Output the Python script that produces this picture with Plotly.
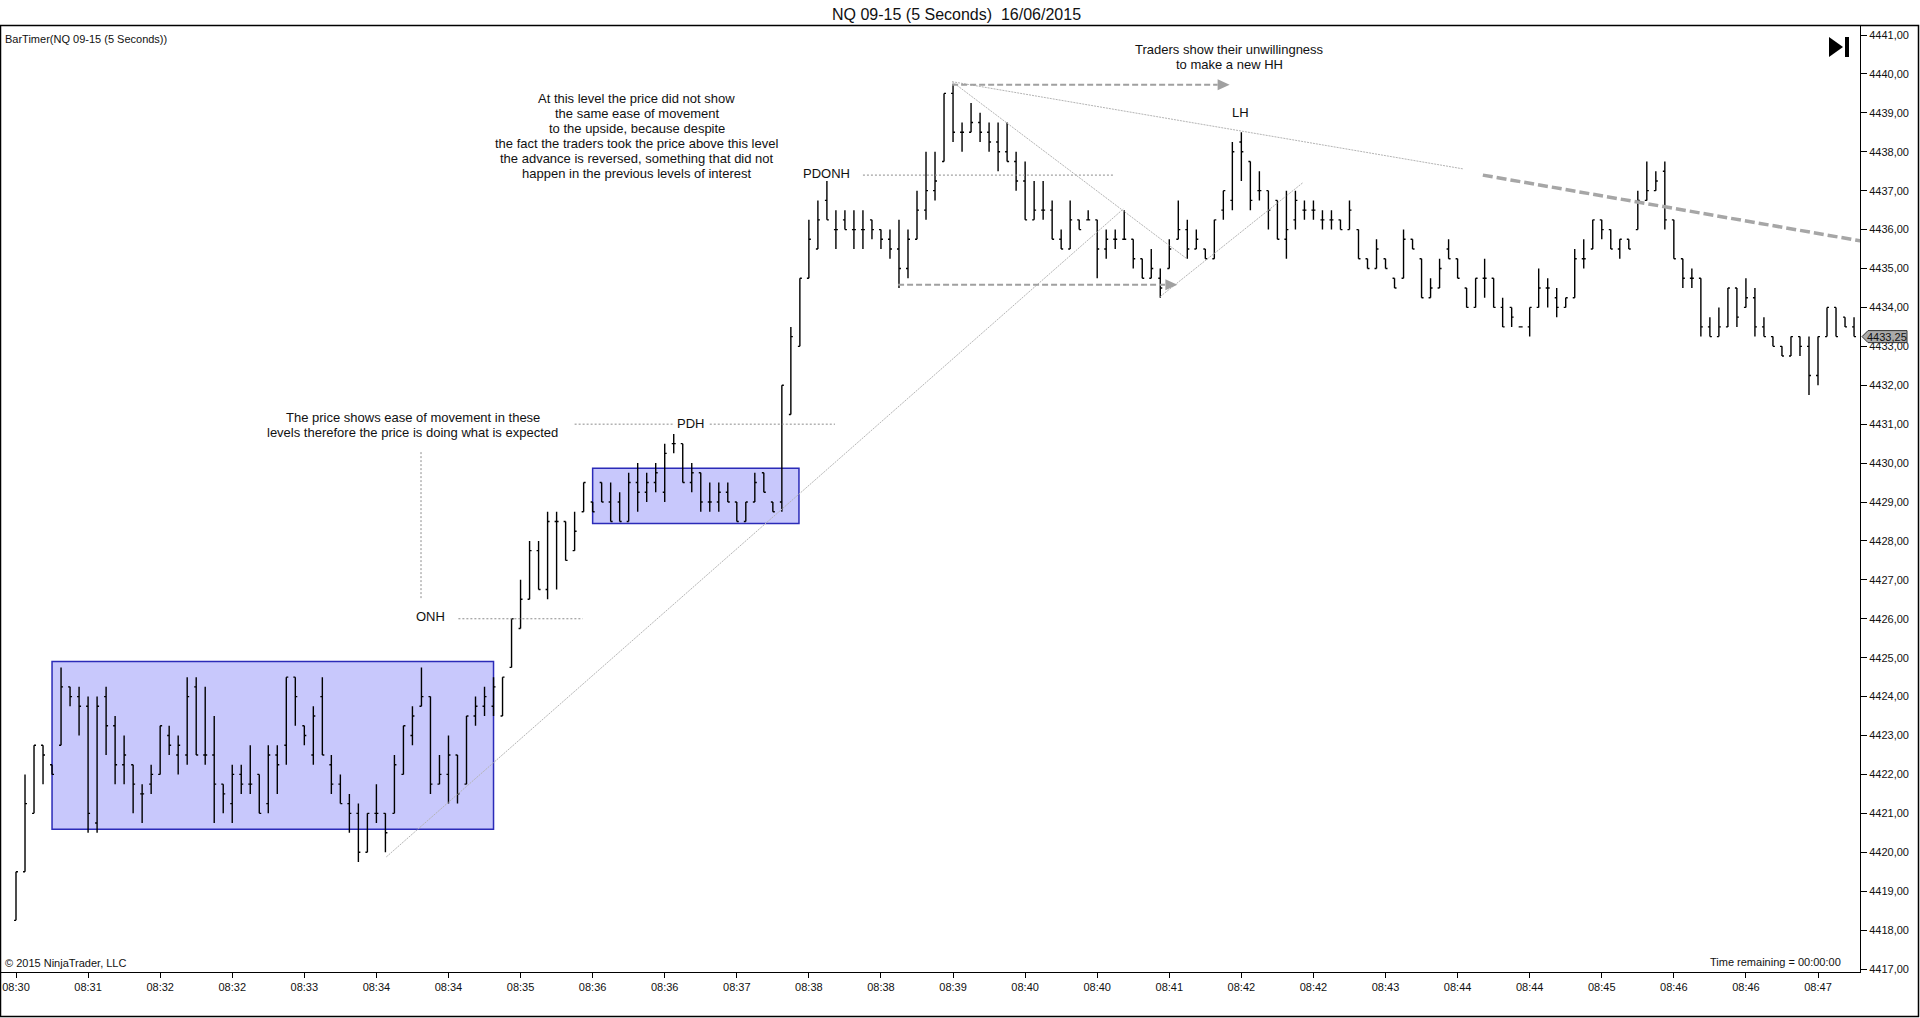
import plotly.graph_objects as go

# 5 second bars of NQ 09-15 (bar index 0 = first bar)
opens = [
    4418.25, 4419.5, 4421.0, 4422.75, 4422.25, 4422.75, 4424.25, 4424.0, 4423.75, 4420.75,
    4424.0, 4423.25, 4422.25, 4422.25, 4421.5, 4421.75, 4422.0, 4423.0, 4422.5, 4422.5,
    4424.25, 4422.5, 4422.5, 4421.75, 4421.25, 4422.0, 4421.75, 4422.0, 4421.25, 4422.5,
    4422.75, 4424.5, 4423.25, 4422.5, 4424.0, 4422.25, 4421.75, 4421.25, 4421.0, 4420.0,
    4421.0, 4421.0, 4421.0, 4422.0, 4423.0, 4423.75, 4424.0, 4421.75, 4422.0, 4422.5,
    4421.75, 4423.5, 4423.75, 4423.75, 4423.5, 4424.75, 4425.75, 4426.5, 4427.75, 4426.75,
    4428.5, 4428.5, 4427.75, 4428.75, 4429.0, 4429.5, 4429.0, 4429.0, 4428.5, 4429.5,
    4429.25, 4429.5, 4429.25, 4430.5, 4430.5, 4429.5, 4429.75, 4429.0, 4429.0, 4429.25,
    4429.0, 4428.5, 4429.0, 4429.75, 4429.0, 4429.0, 4431.25, 4433.0, 4434.75, 4435.5,
    4436.75, 4436.0, 4436.25, 4436.0, 4436.0, 4436.25, 4436.0, 4435.75, 4435.5, 4435.0,
    4435.75, 4436.5, 4437.0, 4437.75, 4439.5, 4438.5, 4438.5, 4438.75, 4438.5, 4438.25,
    4438.0, 4437.75, 4437.25, 4436.25, 4436.5, 4436.5, 4435.75, 4435.5, 4436.25, 4436.25,
    4436.25, 4435.5, 4435.75, 4435.75, 4435.75, 4435.25, 4434.75, 4434.75, 4435.0, 4435.75,
    4436.0, 4435.5, 4435.5, 4435.25, 4436.5, 4436.75, 4438.25, 4437.75, 4437.0, 4437.0,
    4436.75, 4435.75, 4436.25, 4436.5, 4436.5, 4436.25, 4436.25, 4436.25, 4436.0, 4436.0,
    4435.25, 4435.0, 4435.25, 4434.75, 4434.75, 4435.75, 4435.25, 4434.25, 4434.5, 4435.5,
    4435.25, 4434.5, 4434.0, 4434.75, 4434.75, 4434.0, 4434.0, 4433.5, 4433.5, 4434.0,
    4434.5, 4434.25, 4434.0, 4434.25, 4435.25, 4435.5, 4436.25, 4436.0, 4435.5, 4435.75,
    4436.0, 4436.75, 4437.0, 4437.5, 4436.25, 4435.25, 4434.75, 4434.75, 4433.5, 4433.25,
    4433.5, 4434.5, 4434.0, 4434.25, 4433.5, 4433.25, 4433.0, 4432.75, 4433.25, 4433.0,
    4432.25, 4433.25, 4434.0, 4433.75, 4433.5,
]
highs = [
    4419.5, 4422.0, 4422.75, 4422.75, 4422.25, 4424.75, 4424.25, 4424.25, 4424.0, 4424.0,
    4424.25, 4423.5, 4423.0, 4422.25, 4421.75, 4422.25, 4423.25, 4423.25, 4423.0, 4424.5,
    4424.5, 4424.25, 4423.5, 4421.75, 4422.25, 4422.25, 4422.75, 4422.0, 4422.75, 4422.75,
    4424.5, 4424.5, 4423.25, 4423.75, 4424.5, 4422.5, 4422.0, 4421.5, 4421.25, 4421.0,
    4421.75, 4421.0, 4422.5, 4423.25, 4423.75, 4424.75, 4424.0, 4422.5, 4423.0, 4422.5,
    4423.5, 4424.0, 4424.25, 4424.5, 4424.5, 4426.0, 4427.0, 4428.0, 4428.0, 4428.75,
    4428.75, 4428.5, 4428.75, 4429.5, 4429.0, 4429.5, 4429.5, 4429.25, 4429.75, 4430.0,
    4429.75, 4430.0, 4430.5, 4430.75, 4430.5, 4430.0, 4429.75, 4429.5, 4429.5, 4429.5,
    4429.0, 4429.0, 4429.75, 4429.75, 4429.0, 4432.0, 4433.5, 4434.75, 4436.25, 4436.75,
    4437.25, 4436.5, 4436.5, 4436.5, 4436.5, 4436.25, 4436.0, 4436.0, 4436.25, 4436.0,
    4437.0, 4438.0, 4438.0, 4439.5, 4439.75, 4438.75, 4439.25, 4439.0, 4438.75, 4438.75,
    4438.75, 4438.0, 4437.75, 4437.25, 4437.25, 4436.75, 4436.0, 4436.75, 4436.25, 4436.5,
    4436.25, 4436.0, 4436.0, 4436.5, 4435.75, 4435.25, 4435.5, 4435.0, 4435.75, 4436.75,
    4436.25, 4436.0, 4435.5, 4436.25, 4437.0, 4438.25, 4438.5, 4437.75, 4437.5, 4437.0,
    4436.75, 4437.0, 4437.0, 4436.75, 4436.75, 4436.5, 4436.5, 4436.25, 4436.75, 4436.0,
    4435.25, 4435.75, 4435.25, 4434.75, 4436.0, 4435.75, 4435.25, 4434.75, 4435.25, 4435.75,
    4435.25, 4434.5, 4434.75, 4435.25, 4434.75, 4434.25, 4434.0, 4433.5, 4434.0, 4435.0,
    4434.75, 4434.5, 4434.25, 4435.5, 4435.75, 4436.25, 4436.25, 4436.0, 4435.75, 4435.75,
    4437.0, 4437.75, 4437.5, 4437.75, 4436.25, 4435.25, 4435.0, 4434.75, 4433.75, 4434.0,
    4434.5, 4434.5, 4434.75, 4434.5, 4433.75, 4433.25, 4433.0, 4433.25, 4433.25, 4433.25,
    4433.25, 4434.0, 4434.0, 4433.75, 4433.75,
]
lows = [
    4418.25, 4419.5, 4421.0, 4421.75, 4422.0, 4422.75, 4423.75, 4423.0, 4420.5, 4420.5,
    4422.5, 4421.75, 4421.75, 4421.0, 4420.75, 4421.5, 4422.0, 4422.5, 4422.0, 4422.25,
    4422.5, 4422.25, 4420.75, 4421.0, 4420.75, 4421.5, 4421.5, 4421.0, 4421.0, 4421.5,
    4422.25, 4423.25, 4422.75, 4422.25, 4422.5, 4421.5, 4421.25, 4420.5, 4419.75, 4420.0,
    4420.75, 4420.0, 4421.0, 4422.0, 4422.75, 4423.75, 4421.5, 4421.75, 4421.25, 4421.25,
    4421.75, 4423.25, 4423.5, 4423.5, 4423.5, 4424.75, 4425.75, 4426.5, 4426.75, 4426.5,
    4426.75, 4427.5, 4427.75, 4428.75, 4428.75, 4429.0, 4428.5, 4428.5, 4428.5, 4428.75,
    4429.0, 4429.25, 4429.0, 4430.25, 4429.5, 4429.25, 4428.75, 4428.75, 4428.75, 4429.0,
    4428.5, 4428.5, 4429.0, 4429.25, 4428.75, 4428.75, 4431.25, 4433.0, 4434.75, 4435.5,
    4436.25, 4435.5, 4436.0, 4435.5, 4435.5, 4435.75, 4435.5, 4435.25, 4434.5, 4434.75,
    4435.75, 4436.25, 4436.75, 4437.75, 4438.25, 4438.0, 4438.5, 4438.25, 4438.0, 4437.5,
    4437.75, 4437.0, 4436.25, 4436.25, 4436.25, 4435.75, 4435.5, 4435.5, 4436.0, 4436.25,
    4434.75, 4435.25, 4435.5, 4435.75, 4435.0, 4434.75, 4434.75, 4434.25, 4435.0, 4435.75,
    4435.25, 4435.5, 4435.25, 4435.25, 4436.25, 4436.5, 4437.25, 4436.5, 4436.75, 4436.0,
    4435.75, 4435.25, 4436.0, 4436.25, 4436.25, 4436.0, 4436.0, 4436.0, 4436.0, 4435.25,
    4435.0, 4435.0, 4435.0, 4434.5, 4434.75, 4435.5, 4434.25, 4434.25, 4434.5, 4435.25,
    4434.75, 4434.0, 4434.0, 4434.25, 4434.0, 4433.5, 4433.5, 4433.5, 4433.25, 4434.0,
    4434.0, 4433.75, 4434.0, 4434.25, 4435.0, 4435.5, 4435.75, 4435.5, 4435.25, 4435.5,
    4436.0, 4436.75, 4437.0, 4436.0, 4435.25, 4434.5, 4434.5, 4433.25, 4433.25, 4433.25,
    4433.5, 4433.5, 4434.0, 4433.25, 4433.25, 4433.0, 4432.75, 4432.75, 4432.75, 4431.75,
    4432.0, 4433.25, 4433.25, 4433.5, 4433.25,
]
closes = [
    4419.5, 4421.25, 4422.75, 4422.5, 4422.0, 4424.25, 4424.0, 4423.75, 4421.0, 4423.75,
    4423.25, 4422.25, 4422.5, 4421.75, 4421.5, 4422.0, 4423.25, 4422.75, 4422.75, 4424.0,
    4422.5, 4422.5, 4421.75, 4421.5, 4422.0, 4421.75, 4421.75, 4421.0, 4422.5, 4422.25,
    4424.5, 4424.0, 4423.0, 4423.5, 4422.5, 4421.75, 4421.25, 4421.0, 4420.0, 4421.0,
    4421.0, 4420.5, 4422.25, 4423.25, 4423.5, 4424.0, 4421.75, 4422.0, 4422.5, 4421.5,
    4423.5, 4423.75, 4424.0, 4424.25, 4424.5, 4426.0, 4426.5, 4427.75, 4426.75, 4428.5,
    4428.5, 4427.5, 4428.25, 4429.5, 4428.75, 4429.0, 4428.5, 4428.5, 4429.5, 4429.25,
    4429.5, 4429.75, 4430.25, 4430.5, 4429.5, 4429.75, 4429.0, 4429.0, 4429.25, 4429.0,
    4428.5, 4429.0, 4429.5, 4429.25, 4428.75, 4432.0, 4433.25, 4434.75, 4435.75, 4436.25,
    4436.25, 4436.0, 4436.0, 4436.0, 4436.0, 4436.0, 4435.75, 4435.5, 4435.0, 4435.75,
    4436.5, 4437.0, 4437.25, 4439.5, 4438.5, 4438.5, 4438.75, 4438.5, 4438.25, 4438.0,
    4437.75, 4437.25, 4436.25, 4436.5, 4436.5, 4435.75, 4435.5, 4436.25, 4436.0, 4436.25,
    4435.5, 4435.75, 4435.75, 4435.75, 4435.25, 4434.75, 4435.0, 4434.5, 4435.5, 4436.0,
    4435.5, 4435.75, 4435.25, 4436.25, 4437.0, 4438.0, 4438.0, 4436.75, 4437.0, 4436.5,
    4435.75, 4436.0, 4436.75, 4436.5, 4436.5, 4436.25, 4436.25, 4436.0, 4436.5, 4435.25,
    4435.0, 4435.5, 4435.0, 4434.5, 4435.75, 4435.5, 4434.25, 4434.5, 4435.0, 4435.25,
    4434.75, 4434.0, 4434.75, 4434.75, 4434.0, 4433.5, 4433.75, 4433.5, 4434.0, 4434.5,
    4434.5, 4434.0, 4434.25, 4435.25, 4435.25, 4436.25, 4436.0, 4435.5, 4435.75, 4435.5,
    4436.75, 4437.0, 4437.25, 4436.25, 4435.25, 4434.75, 4434.75, 4433.5, 4433.25, 4433.5,
    4434.5, 4433.75, 4434.25, 4433.5, 4433.25, 4433.0, 4432.75, 4433.25, 4433.0, 4432.25,
    4433.25, 4434.0, 4433.25, 4433.5, 4433.25,
]

tick_bars = [0, 8, 16, 24, 32, 40, 48, 56, 64, 72, 80, 88, 96,
             104, 112, 120, 128, 136, 144, 152, 160, 168, 176, 184, 192, 200]
tick_labels = ["08:30", "08:31", "08:32", "08:32", "08:33", "08:34", "08:34", "08:35",
               "08:36", "08:36", "08:37", "08:38", "08:38", "08:39", "08:40", "08:40",
               "08:41", "08:42", "08:42", "08:43", "08:44", "08:44", "08:45", "08:46",
               "08:46", "08:47"]

# drawing objects on the chart, in bar index / price
boxes = [(4.0, 53.0, 4420.59, 4424.90), (64.0, 86.9, 4428.45, 4429.87)]
level_lines = [(49.1, 62.9, 4426.0), (62.0, 72.9, 4431.0), (77.0, 90.9, 4431.0), (94.0, 121.8, 4437.4)]
connector = (44.95, 4426.53, 4430.31)
thin_lines = [(41.1, 4419.88, 122.9, 4436.53), (103.9, 4439.80, 129.9, 4435.26),
              (103.9, 4439.80, 160.6, 4437.56), (127.0, 4434.28, 142.8, 4437.20)]
thick_line = (162.8, 4437.40, 204.7, 4435.71)
arrows = [(103.9, 134.7, 4439.72), (97.9, 128.9, 4434.58)]

labels = [("ONH", 45.95, 4426.05), ("PDH", 74.9, 4431.03), ("PDONH", 89.9, 4437.45), ("LH", 135.85, 4439.02)]
notes = [
    (68.9, 4439.38, ["At this level the price did not show", "the same ease of movement",
                     "to the upside, because despite",
                     "the fact the traders took the price above this level",
                     "the advance is reversed, something that did not",
                     "happen in the previous levels of interest"]),
    (44.06, 4431.17, ["The price shows ease of movement in these",
                      "levels therefore the price is doing what is expected"]),
    (134.7, 4440.64, ["Traders show their unwillingness", "to make a new HH"]),
]

W, H = 1920, 1018
ML, MR, MT, MB = 1, 60, 26, 46
PW, PH = W - ML - MR, H - MT - MB
FONT = "Liberation Sans, Arial, sans-serif"
INK = "#111111"


def px(x):
    return (x - ML) / PW


def py(y):
    return (H - MB - y) / PH


fig = go.Figure(go.Ohlc(
    x=list(range(len(opens))), open=opens, high=highs, low=lows, close=closes,
    increasing=dict(line=dict(color="black", width=1.4)),
    decreasing=dict(line=dict(color="black", width=1.4)),
    tickwidth=0.22, hoverinfo="skip", showlegend=False,
))

shapes = []
for x0, x1, y0, y1 in boxes:
    shapes.append(dict(type="rect", x0=x0, x1=x1, y0=y0, y1=y1, layer="below",
                       fillcolor="#c8c8fc", line=dict(color="#2b2bb8", width=1.5)))
for x0, x1, y in level_lines:
    shapes.append(dict(type="line", x0=x0, x1=x1, y0=y, y1=y,
                       line=dict(color="#8c8c8c", width=1, dash="2px,2px")))
shapes.append(dict(type="line", x0=connector[0], x1=connector[0], y0=connector[1], y1=connector[2],
                   line=dict(color="#8c8c8c", width=1, dash="2px,2px")))
for x0, y0, x1, y1 in thin_lines:
    shapes.append(dict(type="line", x0=x0, y0=y0, x1=x1, y1=y1,
                       line=dict(color="#b4b4b4", width=1, dash="2px,1px")))
shapes.append(dict(type="line", x0=thick_line[0], y0=thick_line[1], x1=thick_line[2], y1=thick_line[3],
                   line=dict(color="#a6a6a6", width=3.5, dash="10px,4px")))

# arrow heads: 12 px long, 11 px high
hl, hh = 12 / 9.01, 5.5 / (934 / 24)
for x0, x1, y in arrows:
    shapes.append(dict(type="line", x0=x0, x1=x1 - hl, y0=y, y1=y,
                       line=dict(color="#a0a0a0", width=2, dash="6px,3px")))
    shapes.append(dict(type="path", path=f"M {x1 - hl},{y + hh} L {x1},{y} L {x1 - hl},{y - hh} Z",
                       fillcolor="#a0a0a0", line=dict(width=0)))

# panel frame and the "go to end" icon
shapes.append(dict(type="rect", xref="paper", yref="paper", x0=px(0.5), x1=px(1918.5),
                   y0=py(1016.5), y1=py(25.5), line=dict(color="black", width=1.5)))
shapes.append(dict(type="path", xref="paper", yref="paper",
                   path=f"M {px(1829)},{py(37)} L {px(1843)},{py(47)} L {px(1829)},{py(57)} Z",
                   fillcolor="black", line=dict(width=0)))
shapes.append(dict(type="rect", xref="paper", yref="paper", x0=px(1845), x1=px(1849),
                   y0=py(57), y1=py(37), fillcolor="black", line=dict(width=0)))

# last price marker
last = closes[-1]
mh = 6 / (934 / 24)
shapes.append(dict(type="path", xref="paper", yref="y",
                   path=(f"M {px(1862)},{last} L {px(1868)},{last + mh} L {px(1907)},{last + mh} "
                         f"L {px(1907)},{last - mh} L {px(1868)},{last - mh} Z"),
                   fillcolor="#aaaaaa", line=dict(color="#333333", width=1)))

annotations = []
for text, x, y in labels:
    annotations.append(dict(x=x, y=y, text=text, showarrow=False, xanchor="center", yanchor="middle",
                            font=dict(family=FONT, size=13, color=INK)))
for x, y, lines in notes:
    for k, line in enumerate(lines):
        annotations.append(dict(x=x, y=y, text=line, showarrow=False, xanchor="center", yanchor="middle",
                                yshift=-15 * k, font=dict(family=FONT, size=13, color=INK)))

annotations += [
    dict(xref="paper", yref="paper", x=px(956), y=py(14), text="NQ 09-15 (5 Seconds)  16/06/2015",
         showarrow=False, xanchor="center", yanchor="middle", font=dict(family=FONT, size=16, color=INK)),
    dict(xref="paper", yref="paper", x=px(3), y=py(39), text="BarTimer(NQ 09-15 (5 Seconds))",
         showarrow=False, xanchor="left", yanchor="middle", font=dict(family=FONT, size=11, color=INK)),
    dict(xref="paper", yref="paper", x=px(3), y=py(963), text="© 2015 NinjaTrader, LLC",
         showarrow=False, xanchor="left", yanchor="middle", font=dict(family=FONT, size=11, color=INK)),
    dict(xref="paper", yref="paper", x=px(1843), y=py(962), text="Time remaining = 00:00:00",
         showarrow=False, xanchor="right", yanchor="middle", font=dict(family=FONT, size=11, color=INK)),
    dict(xref="paper", yref="y", x=px(1887), y=last, text=f"{last:.2f}".replace(".", ","),
         showarrow=False, xanchor="center", yanchor="middle", font=dict(family=FONT, size=11, color=INK)),
]

ppp = 934 / 24
fig.update_layout(
    width=W, height=H,
    margin=dict(l=ML, r=MR, t=MT, b=MB, pad=0),
    paper_bgcolor="white", plot_bgcolor="white",
    separators=",.",
    shapes=shapes, annotations=annotations,
    font=dict(family=FONT, size=11, color=INK),
    xaxis=dict(range=[-15 / 9.01, (PW + ML - 16) / 9.01], tickvals=tick_bars, ticktext=tick_labels,
               showgrid=False, zeroline=False, showline=True, linecolor="black", linewidth=1,
               ticks="outside", ticklen=5, tickcolor="black", tickfont=dict(size=11),
               rangeslider=dict(visible=False), fixedrange=True),
    yaxis=dict(side="right", range=[4417 - 3 / ppp, 4441 + 9 / ppp], dtick=1, tick0=4417,
               tickformat=".2f", showgrid=False, zeroline=False, showline=True, linecolor="black",
               linewidth=1, ticks="outside", ticklen=6, tickcolor="black", tickfont=dict(size=11),
               fixedrange=True),
)

fig.write_html("out.html", config={"displayModeBar": False},
               post_script="document.body.style.margin='0px';")
